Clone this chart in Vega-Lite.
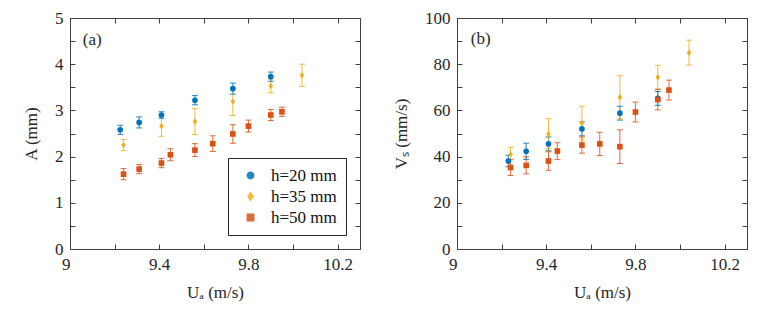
{
  "$schema": "https://vega.github.io/schema/vega-lite/v6.json",
  "padding": {"top": 8, "left": 22, "right": 5, "bottom": 5},
  "background": "white",
  "spacing": 31,
  "config": {
    "font": "Liberation Serif",
    "view": {"stroke": "#404040", "strokeWidth": 1},
    "axis": {"grid": false, "labelFontSize": 17, "titleFontSize": 17, "titleFontWeight": "normal", "labelColor": "#262626", "titleColor": "#262626", "domainColor": "#404040", "tickColor": "#404040", "tickSize": -5, "labelPadding": 12, "labelFont": "Liberation Serif", "titleFont": "Liberation Serif"},
    "legend": {"labelFont": "Liberation Serif", "labelFontSize": 17, "labelColor": "#111"}
  },
  "datasets": {
    "A": [
      {"h": "h=20 mm", "U": 9.225, "val": 2.58, "lo": 2.48, "hi": 2.68},
      {"h": "h=20 mm", "U": 9.31, "val": 2.74, "lo": 2.62, "hi": 2.86},
      {"h": "h=20 mm", "U": 9.41, "val": 2.90, "lo": 2.83, "hi": 2.97},
      {"h": "h=20 mm", "U": 9.56, "val": 3.22, "lo": 3.12, "hi": 3.32},
      {"h": "h=20 mm", "U": 9.73, "val": 3.47, "lo": 3.35, "hi": 3.59},
      {"h": "h=20 mm", "U": 9.90, "val": 3.73, "lo": 3.63, "hi": 3.83},
      {"h": "h=35 mm", "U": 9.24, "val": 2.25, "lo": 2.13, "hi": 2.37},
      {"h": "h=35 mm", "U": 9.41, "val": 2.66, "lo": 2.44, "hi": 2.88},
      {"h": "h=35 mm", "U": 9.56, "val": 2.76, "lo": 2.48, "hi": 3.04},
      {"h": "h=35 mm", "U": 9.73, "val": 3.19, "lo": 2.89, "hi": 3.49},
      {"h": "h=35 mm", "U": 9.90, "val": 3.53, "lo": 3.38, "hi": 3.68},
      {"h": "h=35 mm", "U": 10.04, "val": 3.76, "lo": 3.52, "hi": 4.00},
      {"h": "h=50 mm", "U": 9.24, "val": 1.62, "lo": 1.50, "hi": 1.74},
      {"h": "h=50 mm", "U": 9.31, "val": 1.73, "lo": 1.63, "hi": 1.83},
      {"h": "h=50 mm", "U": 9.41, "val": 1.86, "lo": 1.76, "hi": 1.96},
      {"h": "h=50 mm", "U": 9.45, "val": 2.04, "lo": 1.91, "hi": 2.17},
      {"h": "h=50 mm", "U": 9.56, "val": 2.14, "lo": 2.00, "hi": 2.28},
      {"h": "h=50 mm", "U": 9.64, "val": 2.28, "lo": 2.11, "hi": 2.45},
      {"h": "h=50 mm", "U": 9.73, "val": 2.49, "lo": 2.29, "hi": 2.69},
      {"h": "h=50 mm", "U": 9.80, "val": 2.66, "lo": 2.53, "hi": 2.79},
      {"h": "h=50 mm", "U": 9.90, "val": 2.90, "lo": 2.78, "hi": 3.02},
      {"h": "h=50 mm", "U": 9.95, "val": 2.97, "lo": 2.87, "hi": 3.07}
    ],
    "V": [
      {"h": "h=20 mm", "U": 9.23, "val": 38.1, "lo": 35.6, "hi": 40.6},
      {"h": "h=20 mm", "U": 9.31, "val": 42.3, "lo": 38.8, "hi": 45.8},
      {"h": "h=20 mm", "U": 9.41, "val": 45.5, "lo": 42.5, "hi": 48.5},
      {"h": "h=20 mm", "U": 9.56, "val": 52.0, "lo": 49.0, "hi": 55.0},
      {"h": "h=20 mm", "U": 9.73, "val": 58.8, "lo": 55.8, "hi": 61.8},
      {"h": "h=20 mm", "U": 9.90, "val": 65.2, "lo": 62.2, "hi": 68.2},
      {"h": "h=35 mm", "U": 9.24, "val": 41.0, "lo": 38.0, "hi": 44.0},
      {"h": "h=35 mm", "U": 9.41, "val": 49.8, "lo": 43.5, "hi": 56.4},
      {"h": "h=35 mm", "U": 9.56, "val": 54.5, "lo": 47.2, "hi": 61.8},
      {"h": "h=35 mm", "U": 9.73, "val": 65.7, "lo": 56.4, "hi": 75.0},
      {"h": "h=35 mm", "U": 9.90, "val": 74.3, "lo": 69.1, "hi": 79.5},
      {"h": "h=35 mm", "U": 10.04, "val": 85.0, "lo": 79.6, "hi": 90.4},
      {"h": "h=50 mm", "U": 9.24, "val": 35.3, "lo": 31.8, "hi": 38.8},
      {"h": "h=50 mm", "U": 9.31, "val": 36.2, "lo": 32.5, "hi": 39.9},
      {"h": "h=50 mm", "U": 9.41, "val": 38.1, "lo": 34.1, "hi": 42.1},
      {"h": "h=50 mm", "U": 9.45, "val": 42.4, "lo": 38.8, "hi": 46.0},
      {"h": "h=50 mm", "U": 9.56, "val": 45.0, "lo": 41.5, "hi": 48.5},
      {"h": "h=50 mm", "U": 9.64, "val": 45.5, "lo": 40.5, "hi": 50.5},
      {"h": "h=50 mm", "U": 9.73, "val": 44.3, "lo": 37.0, "hi": 51.6},
      {"h": "h=50 mm", "U": 9.80, "val": 59.3, "lo": 55.0, "hi": 63.6},
      {"h": "h=50 mm", "U": 9.90, "val": 64.7, "lo": 60.2, "hi": 69.2},
      {"h": "h=50 mm", "U": 9.95, "val": 68.8, "lo": 64.5, "hi": 73.1}
    ],
    "labA": [{"label": "(a)", "U": 9.1, "val": 4.53}],
    "labV": [{"label": "(b)", "U": 9.106, "val": 90.7}]
  },
  "resolve": {"scale": {"color": "independent", "shape": "independent"}, "legend": {"color": "independent", "shape": "independent"}},
  "hconcat": [
    {
      "width": 290,
      "height": 231,
      "resolve": {"axis": {"x": "independent", "y": "independent"}},
      "layer": [
        {
          "data": {"name": "A"},
          "mark": {"type": "rule", "strokeWidth": 1, "opacity": 0.85},
          "encoding": {
            "x": {"field": "U", "type": "quantitative", "scale": {"domain": [9, 10.3], "nice": false, "zero": false},
                  "axis": {"orient": "top", "labels": false, "title": null, "values": [9, 9.2, 9.4, 9.6, 9.8, 10, 10.2]}},
            "y": {"field": "lo", "type": "quantitative", "scale": {"domain": [0, 5], "nice": false},
                  "axis": {"orient": "right", "labels": false, "title": null, "values": [0, 0.5, 1, 1.5, 2, 2.5, 3, 3.5, 4, 4.5, 5]}},
            "y2": {"field": "hi"},
            "color": {"field": "h", "type": "nominal", "title": null, "scale": {"domain": ["h=20 mm", "h=35 mm", "h=50 mm"], "range": ["#0072BD", "#EDB120", "#D95319"]}}
          }
        },
        {
          "data": {"name": "A"},
          "mark": {"type": "tick", "orient": "horizontal", "size": 6, "thickness": 1, "opacity": 0.85},
          "encoding": {
            "x": {"field": "U", "type": "quantitative", "axis": null},
            "y": {"field": "lo", "type": "quantitative", "axis": null},
            "color": {"field": "h", "type": "nominal", "title": null}
          }
        },
        {
          "data": {"name": "A"},
          "mark": {"type": "tick", "orient": "horizontal", "size": 6, "thickness": 1, "opacity": 0.85},
          "encoding": {
            "x": {"field": "U", "type": "quantitative", "axis": null},
            "y": {"field": "hi", "type": "quantitative", "axis": null},
            "color": {"field": "h", "type": "nominal", "title": null}
          }
        },
        {
          "data": {"name": "A"},
          "mark": {"type": "point", "filled": true, "opacity": 1, "size": 32},
          "encoding": {
            "x": {"field": "U", "type": "quantitative",
                  "axis": {"title": "Uₐ (m/s)", "values": [9, 9.2, 9.4, 9.6, 9.8, 10, 10.2], "format": "~g", "labelExpr": "round(datum.value*10)%4==2 ? datum.label : ''", "labelAlign": {"expr": "datum.value == 9 ? 'right' : 'center'"}, "titlePadding": 12}},
            "y": {"field": "val", "type": "quantitative",
                  "axis": {"title": "A (mm)", "values": [0, 0.5, 1, 1.5, 2, 2.5, 3, 3.5, 4, 4.5, 5], "format": "~g", "labelExpr": "datum.value%1==0 ? datum.label : ''", "titlePadding": 14}},
            "color": {"field": "h", "type": "nominal", "title": null,
                      "legend": {"orient": "bottom-right", "offset": 14, "strokeColor": "#262626", "padding": 9, "symbolSize": 40, "symbolOffset": 5, "rowPadding": 3, "labelOffset": 12, "fillColor": "white", "symbolType": "circle"}},
            "shape": {"field": "h", "type": "nominal", "title": null, "scale": {"domain": ["h=20 mm", "h=35 mm", "h=50 mm"], "range": ["circle", "M0,-1.2L0.8,0L0,1.2L-0.8,0Z", "square"]}}
          }
        },
        {
          "data": {"name": "labA"},
          "mark": {"type": "text", "fontSize": 17, "font": "Liberation Serif", "color": "#262626"},
          "encoding": {
            "x": {"field": "U", "type": "quantitative", "axis": null},
            "y": {"field": "val", "type": "quantitative", "axis": null},
            "text": {"field": "label"}
          }
        }
      ]
    },
    {
      "width": 290,
      "height": 231,
      "resolve": {"axis": {"x": "independent", "y": "independent"}},
      "layer": [
        {
          "data": {"name": "V"},
          "mark": {"type": "rule", "strokeWidth": 1, "opacity": 0.85},
          "encoding": {
            "x": {"field": "U", "type": "quantitative", "scale": {"domain": [9, 10.3], "nice": false, "zero": false},
                  "axis": {"orient": "top", "labels": false, "title": null, "values": [9, 9.2, 9.4, 9.6, 9.8, 10, 10.2]}},
            "y": {"field": "lo", "type": "quantitative", "scale": {"domain": [0, 100], "nice": false},
                  "axis": {"orient": "right", "labels": false, "title": null, "values": [0, 10, 20, 30, 40, 50, 60, 70, 80, 90, 100]}},
            "y2": {"field": "hi"},
            "color": {"field": "h", "type": "nominal", "scale": {"domain": ["h=20 mm", "h=35 mm", "h=50 mm"], "range": ["#0072BD", "#EDB120", "#D95319"]}, "legend": null}
          }
        },
        {
          "data": {"name": "V"},
          "mark": {"type": "tick", "orient": "horizontal", "size": 6, "thickness": 1, "opacity": 0.85},
          "encoding": {
            "x": {"field": "U", "type": "quantitative", "axis": null},
            "y": {"field": "lo", "type": "quantitative", "axis": null},
            "color": {"field": "h", "type": "nominal", "legend": null}
          }
        },
        {
          "data": {"name": "V"},
          "mark": {"type": "tick", "orient": "horizontal", "size": 6, "thickness": 1, "opacity": 0.85},
          "encoding": {
            "x": {"field": "U", "type": "quantitative", "axis": null},
            "y": {"field": "hi", "type": "quantitative", "axis": null},
            "color": {"field": "h", "type": "nominal", "legend": null}
          }
        },
        {
          "data": {"name": "V"},
          "mark": {"type": "point", "filled": true, "opacity": 1, "size": 32},
          "encoding": {
            "x": {"field": "U", "type": "quantitative",
                  "axis": {"title": "Uₐ (m/s)", "values": [9, 9.2, 9.4, 9.6, 9.8, 10, 10.2], "format": "~g", "labelExpr": "round(datum.value*10)%4==2 ? datum.label : ''", "labelAlign": {"expr": "datum.value == 9 ? 'right' : 'center'"}, "titlePadding": 12}},
            "y": {"field": "val", "type": "quantitative",
                  "axis": {"title": "Vₛ (mm/s)", "values": [0, 10, 20, 30, 40, 50, 60, 70, 80, 90, 100], "labelExpr": "datum.value%20==0 ? datum.label : ''", "titlePadding": 14}},
            "color": {"field": "h", "type": "nominal", "legend": null},
            "shape": {"field": "h", "type": "nominal", "scale": {"domain": ["h=20 mm", "h=35 mm", "h=50 mm"], "range": ["circle", "M0,-1.2L0.8,0L0,1.2L-0.8,0Z", "square"]}, "legend": null}
          }
        },
        {
          "data": {"name": "labV"},
          "mark": {"type": "text", "fontSize": 17, "font": "Liberation Serif", "color": "#262626"},
          "encoding": {
            "x": {"field": "U", "type": "quantitative", "axis": null},
            "y": {"field": "val", "type": "quantitative", "axis": null},
            "text": {"field": "label"}
          }
        }
      ]
    }
  ]
}
